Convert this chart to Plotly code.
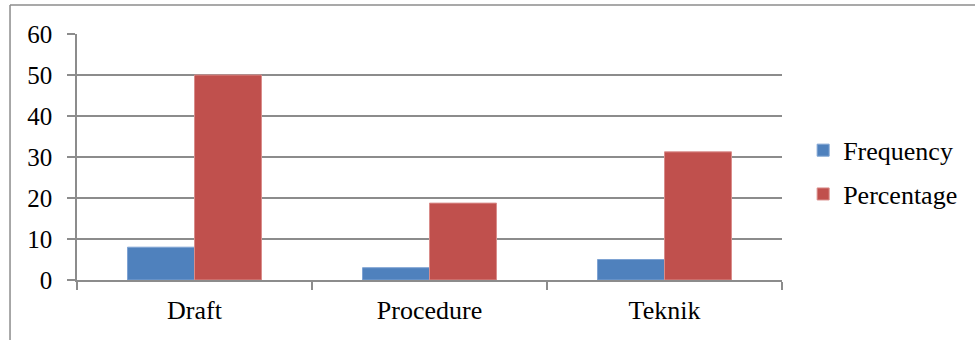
import plotly.graph_objects as go

categories = ["Draft", "Procedure", "Teknik"]
frequency = [8, 3, 5]
percentage = [50, 18.75, 31.25]
y_ticks = [0, 10, 20, 30, 40, 50, 60]

FONT = "Liberation Serif, Times New Roman, serif"
GRID = "#8c8c8c"

fig = go.Figure()
fig.add_trace(go.Bar(
    x=categories, y=frequency, name="Frequency",
    marker=dict(color="#4F81BD", line=dict(color="#7ea3d3", width=1)),
    legendgroup="f",
))
fig.add_trace(go.Bar(
    x=categories, y=percentage, name="Percentage",
    marker=dict(color="#C0504D", line=dict(color="#d98c8a", width=1)),
    legendgroup="p",
))

fig.update_layout(
    width=975, height=340,
    margin=dict(l=77, r=193, t=34, b=60),
    paper_bgcolor="white", plot_bgcolor="white",
    barmode="group", bargap=0.43, bargroupgap=0,
    font=dict(family=FONT, size=25, color="black"),
    showlegend=True,
    legend=dict(
        x=1.03, xanchor="left", y=0.438, yanchor="middle",
        font=dict(family=FONT, size=26, color="black"),
        tracegroupgap=7, bgcolor="rgba(0,0,0,0)",
    ),
    xaxis=dict(
        showline=True, linecolor=GRID, linewidth=1.5,
        ticks="outside", ticklen=8, tickwidth=1.5, tickcolor=GRID,
        tickson="boundaries", showgrid=False,
        tickfont=dict(family=FONT, size=26),
        ticklabelstandoff=6,
        fixedrange=True,
    ),
    yaxis=dict(
        range=[0, 60], tickvals=y_ticks,
        showline=True, linecolor=GRID, linewidth=1.5,
        ticks="outside", ticklen=8, tickwidth=1.5, tickcolor=GRID,
        showgrid=True, gridcolor=GRID, gridwidth=1.5,
        zeroline=False, ticklabelstandoff=10,
        tickfont=dict(family=FONT, size=25),
        fixedrange=True,
    ),
    shapes=[
        # chart frame: top and left edges
        dict(type="line", xref="paper", yref="paper",
             x0=-0.095, x1=1.3, y0=1.118, y1=1.118,
             line=dict(color="#8c8c8c", width=1.5)),
        dict(type="line", xref="paper", yref="paper",
             x0=-0.095, x1=-0.095, y0=1.118, y1=-0.3,
             line=dict(color="#8c8c8c", width=1.5)),
    ],
)

fig.write_html("out.html")
